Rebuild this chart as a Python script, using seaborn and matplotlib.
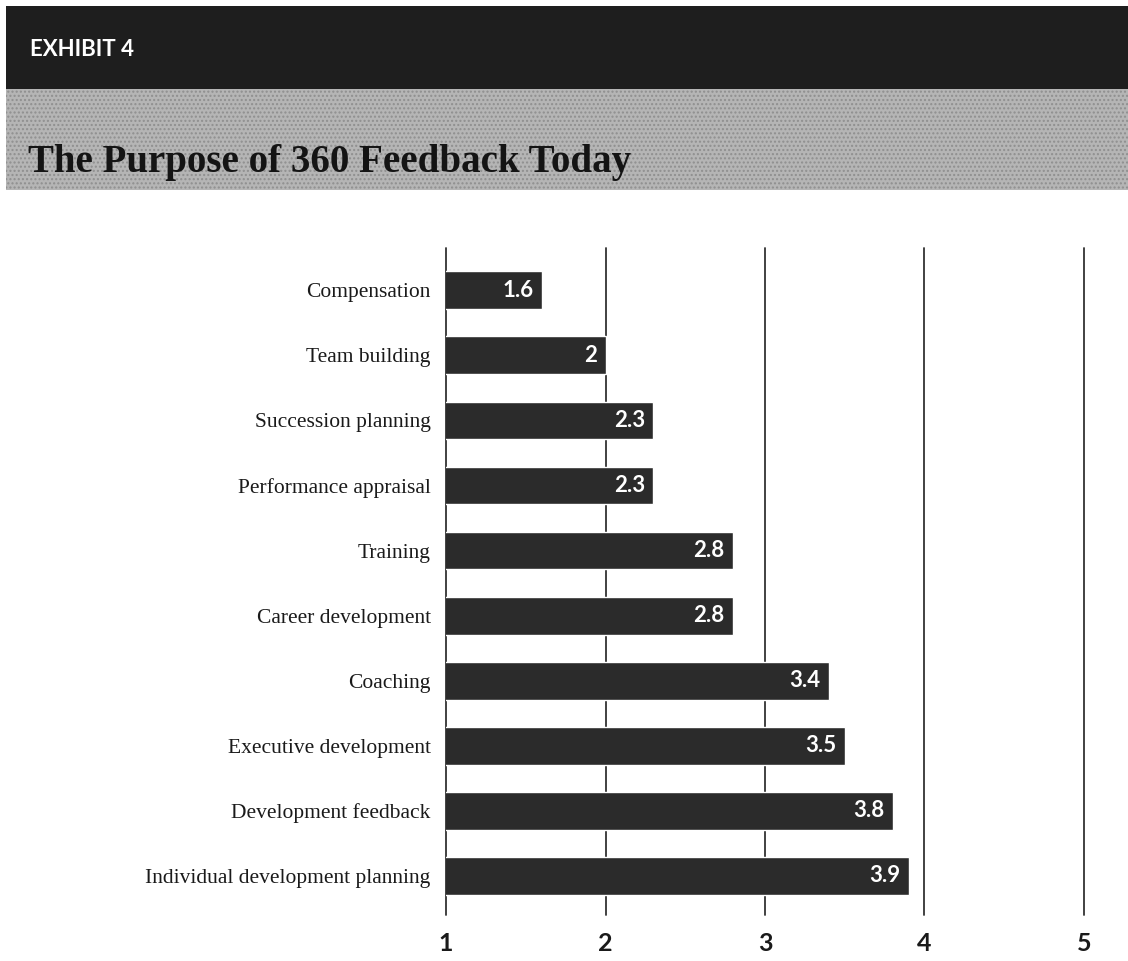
import matplotlib
matplotlib.use("Agg")
import matplotlib.pyplot as plt
import seaborn as sns
import pandas as pd
from matplotlib.patches import Rectangle

categories = ["Compensation", "Team building", "Succession planning",
              "Performance appraisal", "Training", "Career development",
              "Coaching", "Executive development", "Development feedback",
              "Individual development planning"]
values = [1.6, 2.0, 2.3, 2.3, 2.8, 2.8, 3.4, 3.5, 3.8, 3.9]
value_labels = ["1.6", "2", "2.3", "2.3", "2.8", "2.8", "3.4", "3.5", "3.8", "3.9"]
x_ticks = [1, 2, 3, 4, 5]

sns.set_style("white")
plt.rcParams['font.family'] = ['Lato', 'DejaVu Sans']

W, H = 1128, 961
fig = plt.figure(figsize=(W / 100, H / 100), dpi=100)
fig.patch.set_facecolor("white")

# header bands
fig.patches.append(Rectangle((6 / W, 1 - 89 / H), 1, 83 / H, transform=fig.transFigure,
                             facecolor="#1e1e1e", edgecolor="none", zorder=0))
fig.patches.append(Rectangle((6 / W, 1 - 190 / H), 1, 101 / H, transform=fig.transFigure,
                             facecolor="#b5b5b5", edgecolor="#8f8f8f", hatch="....",
                             linewidth=0, zorder=0))
fig.text(30 / W, 1 - 50 / H, "EXHIBIT 4", color="white", fontsize=16, fontweight="bold",
         family=["Lato", "DejaVu Sans"], va="center", ha="left")
fig.text(28 / W, 1 - 172 / H, "The Purpose of 360 Feedback Today", color="#141414",
         fontsize=28, fontweight="bold", family=["Liberation Serif", "DejaVu Serif"],
         va="baseline", ha="left")

left, right = 446 / W, 1084 / W
bottom, top = 1 - 915 / H, 1 - 248 / H
ax = fig.add_axes([left, bottom, right - left, top - bottom])

df = pd.DataFrame({"category": categories, "value": values})
sns.barplot(data=df, x="value", y="category", orient="h", color="#2b2b2b",
            saturation=1, width=0.58, ax=ax, zorder=3)
ax.set_xlim(1, 5)
ax.set_ylim(9.6, -0.65)
for v in x_ticks:
    ax.axvline(v, color="#333333", linewidth=1.3, clip_on=False, zorder=1)
for s in ax.spines.values():
    s.set_visible(False)
ax.set_xlabel("")
ax.set_ylabel("")
ax.set_xticks(x_ticks)
ax.set_xticklabels([str(t) for t in x_ticks], fontsize=18, fontweight="bold", color="#1a1a1a")
ax.tick_params(axis="x", length=0, pad=12)
ax.set_yticks(range(len(categories)))
ax.set_yticklabels(categories, fontsize=15.5, color="#1a1a1a",
                   family=["Liberation Serif", "DejaVu Serif"])
ax.tick_params(axis="y", length=0, pad=11)

for i, (v, lab) in enumerate(zip(values, value_labels)):
    ax.annotate(lab, xy=(v, i), xytext=(-6, 0), textcoords="offset points",
                ha="right", va="center", color="white", fontsize=16,
                fontweight="bold", zorder=5)

fig.savefig("out.png", dpi=100)
